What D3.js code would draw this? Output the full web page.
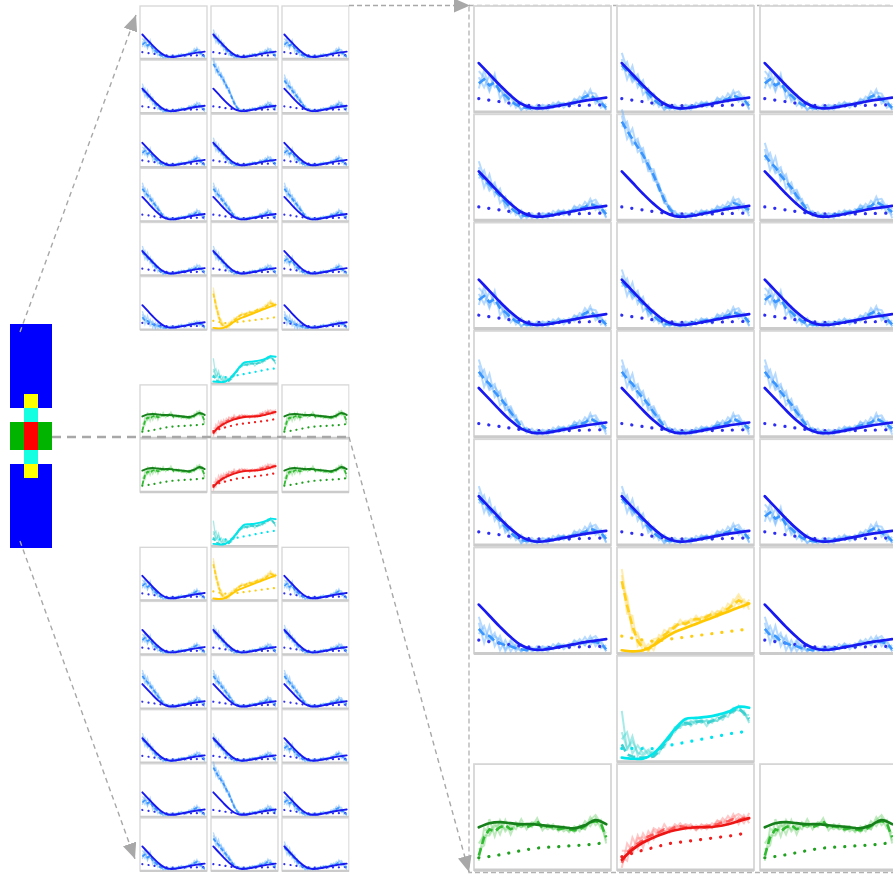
<!DOCTYPE html>
<html lang="en">
<head>
<meta charset="utf-8">
<title>Small multiples with zoom</title>
<script src="https://d3js.org/d3.v7.min.js"></script>
<style>
  body { margin: 0; background: #fff; }
</style>
</head>
<body>
<script>
// layout of the grid: B blue, Y yellow, C cyan, G green, R red, - empty
const rowKinds = ["BBB","BBB","BBB","BBB","BBB","BYB","-C-","GRG","GRG","-C-","BYB","BBB","BBB","BBB","BBB","BBB"];
// which blue data curve each blue cell shows
const blueVariants = ["ABA","BCD","ABA","DDD","BBA","E-E","---","---","---","---","A-A","ABB","DDD","BBA","ACA","ADB"];

// fitted curves (solid), 13 points across the panel
const blueFit   = [0.46,0.35,0.24,0.14,0.06,0.02,0.015,0.03,0.05,0.07,0.09,0.105,0.12];
const yellowFit = [0.01,0.0,0.01,0.06,0.13,0.19,0.23,0.27,0.31,0.35,0.39,0.43,0.47];
const cyanFit   = [0.02,0.01,0.01,0.06,0.17,0.30,0.40,0.41,0.42,0.44,0.47,0.52,0.51];
const greenFit  = [0.40,0.44,0.45,0.44,0.43,0.43,0.42,0.41,0.40,0.39,0.42,0.47,0.43];
const redFit    = [0.08,0.18,0.25,0.30,0.34,0.37,0.39,0.40,0.40,0.41,0.43,0.46,0.49];

// baselines (dotted)
const blueDot   = [0.11,0.08,0.05,0.04,0.04,0.045,0.05];
const yellowDot = [0.15,0.12,0.10,0.12,0.14,0.16,0.18,0.20,0.22];
const cyanDot   = [0.11,0.11,0.11,0.14,0.17,0.20,0.23,0.26,0.28];
const greenDot  = [0.10,0.12,0.15,0.18,0.20,0.21,0.22,0.23,0.25];
const redDot    = [0.11,0.16,0.20,0.24,0.26,0.28,0.30,0.32,0.35];

// mean of the data (dashed), 25 points
const blueDashA = [0.26,0.30,0.24,0.27,0.18,0.14,0.09,0.05,0.03,0.02,0.01,0.02,0.02,0.03,0.04,0.05,0.05,0.06,0.07,0.09,0.13,0.15,0.10,0.07,0.02];
const blueDashB = [0.44,0.38,0.33,0.27,0.22,0.16,0.10,0.06,0.03,0.02,0.02,0.01,0.02,0.03,0.04,0.05,0.06,0.06,0.08,0.09,0.11,0.14,0.12,0.10,0.04];
const blueDashC = [0.95,0.86,0.78,0.70,0.62,0.52,0.42,0.30,0.18,0.09,0.04,0.02,0.02,0.03,0.04,0.05,0.06,0.07,0.08,0.09,0.11,0.15,0.13,0.11,0.08];
const blueDashD = [0.62,0.55,0.50,0.42,0.36,0.30,0.22,0.15,0.08,0.04,0.03,0.02,0.02,0.03,0.04,0.05,0.06,0.07,0.09,0.10,0.12,0.16,0.13,0.10,0.06];
const blueDashE = [0.22,0.16,0.15,0.10,0.08,0.06,0.05,0.03,0.02,0.01,0.01,0.02,0.02,0.03,0.04,0.05,0.05,0.06,0.07,0.08,0.09,0.10,0.09,0.08,0.02];
const yellowDash = [0.69,0.45,0.25,0.10,0.03,0.02,0.06,0.12,0.16,0.20,0.24,0.28,0.27,0.30,0.32,0.31,0.34,0.37,0.36,0.39,0.42,0.46,0.50,0.48,0.47];
const cyanDash   = [0.15,0.05,0.03,0.02,0.02,0.02,0.03,0.08,0.15,0.22,0.29,0.34,0.36,0.35,0.37,0.38,0.36,0.38,0.40,0.42,0.45,0.48,0.50,0.46,0.40];
const greenDash  = [0.12,0.30,0.38,0.36,0.40,0.42,0.38,0.41,0.43,0.40,0.42,0.46,0.39,0.41,0.40,0.38,0.39,0.38,0.37,0.38,0.41,0.45,0.46,0.44,0.30];
const redDash    = [0.05,0.15,0.20,0.24,0.27,0.31,0.33,0.35,0.38,0.37,0.40,0.41,0.40,0.41,0.39,0.40,0.41,0.42,0.43,0.45,0.46,0.48,0.47,0.49,0.50];

// scatter of single traces around the mean
const jitter1 = [0.06,-0.08,0.10,-0.05,0.07,-0.06,0.04,-0.03,0.05,-0.02,0.03,-0.02,0.02,-0.03,0.03,-0.02,0.02,-0.03,0.04,-0.02,0.05,-0.04,0.03,-0.05,0.04];
const jitter2 = [-0.05,0.09,-0.04,0.08,-0.07,0.05,-0.05,0.04,-0.03,0.03,-0.02,0.03,-0.02,0.02,-0.02,0.03,-0.03,0.02,-0.02,0.04,-0.03,0.05,-0.04,0.03,-0.06];
const jitter3 = [0.12,0.02,-0.06,0.05,0.03,-0.04,0.06,0.01,-0.03,0.02,0.01,-0.01,0.03,0.0,-0.02,0.02,0.01,-0.02,0.03,0.01,-0.03,0.02,0.06,0.0,-0.03];
const cyanJitter1 = [0.33,0.04,0.20,0.02,0.10,0.03,0.05,-0.02,0.03,-0.02,0.02,-0.03,0.03,-0.02,0.02,-0.02,0.03,-0.02,0.02,-0.03,0.02,-0.02,0.03,-0.02,0.04];
const cyanJitter2 = [0.05,0.22,0.03,0.12,0.04,0.08,0.02,0.03,-0.03,0.02,-0.02,0.02,-0.02,0.03,-0.02,0.02,-0.03,0.02,-0.02,0.02,-0.03,0.03,-0.02,0.02,-0.04];
const cyanJitter3 = [0.12,0.06,0.15,0.05,0.02,0.06,0.01,0.02,0.02,-0.01,0.03,0.0,-0.02,0.02,0.01,-0.01,0.02,0.0,-0.02,0.01,0.02,-0.01,0.02,0.0,-0.02];

const series = {
  B: { fit: blueFit, dot: blueDot, dash: {A: blueDashA, B: blueDashB, C: blueDashC, D: blueDashD, E: blueDashE},
       jit: [jitter1, jitter2, jitter3], map: "#0000ff",
       cFit: "#1818f0", cDash: "#3a96ff", cFaint: "#6fb6ff", cDot: "#2e2ef2" },
  Y: { fit: yellowFit, dot: yellowDot, dash: {"-": yellowDash}, jit: [jitter1, jitter2, jitter3], map: "#ffff00",
       cFit: "#ffc800", cDash: "#ffcf1a", cFaint: "#ffdc60", cDot: "#ffcc10" },
  C: { fit: cyanFit, dot: cyanDot, dash: {"-": cyanDash}, jit: [cyanJitter1, cyanJitter2, cyanJitter3], map: "#14ffe2",
       cFit: "#00e6ea", cDash: "#3cd0d0", cFaint: "#50d8d2", cDot: "#00e4f0" },
  G: { fit: greenFit, dot: greenDot, dash: {"-": greenDash}, jit: [jitter1, jitter2, jitter3], map: "#00b400",
       cFit: "#16801a", cDash: "#30bb30", cFaint: "#7ed67e", cDot: "#22a022" },
  R: { fit: redFit, dot: redDot, dash: {"-": redDash}, jit: [jitter1, jitter2, jitter3], map: "#ff0000",
       cFit: "#ee1515", cDash: "#ff5a5a", cFaint: "#ff9090", cDot: "#ee2020" }
};

const W = 893, H = 878;
const svg = d3.select("body").append("svg").attr("width", W).attr("height", H);

const defs = svg.append("defs");
defs.append("marker")
    .attr("id", "arr")
    .attr("viewBox", "0 0 16 14")
    .attr("refX", 16).attr("refY", 7)
    .attr("markerWidth", 16).attr("markerHeight", 14)
    .attr("markerUnits", "userSpaceOnUse")
    .attr("orient", "auto")
  .append("path")
    .attr("d", "M0,0L16,7L0,14Z")
    .attr("fill", "#a8a8a8");
defs.append("clipPath").attr("id", "midclip")
  .append("rect").attr("x", 0).attr("y", 0).attr("width", 349.5).attr("height", H);

// ---- map on the left
const mapBox = {x: 10, y: 324, s: 14};
const mapG = svg.append("g").attr("shape-rendering", "crispEdges");
rowKinds.forEach((row, r) => {
  row.split("").forEach((kind, c) => {
    if (kind === "-") return;
    mapG.append("rect")
      .attr("x", mapBox.x + c * mapBox.s).attr("y", mapBox.y + r * mapBox.s)
      .attr("width", mapBox.s).attr("height", mapBox.s)
      .attr("fill", series[kind].map);
  });
});

// ---- cell drawing
function drawCell(parent, r, c, kind, variant, box) {
  const s = series[kind];
  const st = box.style;
  const x0 = box.x + c * box.dx, y0 = box.y + r * box.dy;
  const g = parent.append("g");

  g.append("rect")
    .attr("x", x0).attr("y", y0).attr("width", box.w).attr("height", box.h)
    .attr("fill", "#fff").attr("stroke", "#d6d6d6").attr("stroke-width", box.frame);
  g.append("line")
    .attr("x1", x0).attr("x2", x0 + box.w).attr("y1", y0 + box.h).attr("y2", y0 + box.h)
    .attr("stroke", "#cbcbcb").attr("stroke-width", box.frame * 1.8);

  const x = d3.scaleLinear().domain([0, 1]).range([x0 + 0.035 * box.w, x0 + 0.965 * box.w]);
  const y = d3.scaleLinear().domain([0, 1]).range([y0 + box.h - box.pad, y0 + box.pad]);
  const line = (curve) => d3.line()
      .x((d, i, arr) => x(i / (arr.length - 1)))
      .y(d => y(d))
      .curve(curve);

  const dash = s.dash[variant] || s.dash["-"];

  s.jit.forEach(j => {
    const trace = dash.map((v, i) => Math.max(0, v + j[i]));
    g.append("path").attr("d", line(d3.curveLinear)(trace))
      .attr("fill", "none").attr("stroke", s.cFaint)
      .attr("stroke-opacity", 0.5).attr("stroke-width", st.faint);
  });

  g.append("path").attr("d", line(d3.curveCatmullRom)(s.dot))
    .attr("fill", "none").attr("stroke", s.cDot)
    .attr("stroke-width", st.dot).attr("stroke-linecap", "round")
    .attr("stroke-dasharray", st.dotDash);

  g.append("path").attr("d", line(d3.curveLinear)(dash))
    .attr("fill", "none").attr("stroke", s.cDash)
    .attr("stroke-width", st.dash)
    .attr("stroke-dasharray", st.dashDash);

  g.append("path").attr("d", line(d3.curveCatmullRom)(s.fit))
    .attr("fill", "none").attr("stroke", s.cFit)
    .attr("stroke-width", st.fit).attr("stroke-linecap", "round");
}

function drawGrid(parent, box, nRows) {
  rowKinds.slice(0, nRows).forEach((row, r) => {
    row.split("").forEach((kind, c) => {
      if (kind === "-") return;
      drawCell(parent, r, c, kind, blueVariants[r][c], box);
    });
  });
}

// ---- zoomed panel on the right (rows 0-7)
svg.append("rect")
  .attr("x", 469).attr("y", 5.5).attr("width", 500).attr("height", 867)
  .attr("fill", "none").attr("stroke", "#b2b2b2").attr("stroke-width", 1.3)
  .attr("stroke-dasharray", "5,3");
const rightBox = {x: 474, y: 6, dx: 143, dy: 108.3, w: 137, h: 106, pad: 2.2, frame: 1.8,
  style: {faint: 2.0, dot: 3.2, dotDash: "0.1,10", dash: 2.6, dashDash: "8,4", fit: 2.7}};
drawGrid(svg.append("g"), rightBox, 8);

// ---- middle small multiples (all rows)
const midBox = {x: 140, y: 6, dx: 71, dy: 54.13, w: 67, h: 53, pad: 1.3, frame: 1.3,
  style: {faint: 1.3, dot: 2.2, dotDash: "0.1,6", dash: 1.7, dashDash: "4,2", fit: 1.9}};
drawGrid(svg.append("g").attr("clip-path", "url(#midclip)"), midBox, rowKinds.length);

// ---- connecting dashed lines
const lg = svg.append("g").attr("fill", "none").attr("stroke", "#a8a8a8");
lg.append("line").attr("x1", 20).attr("y1", 332).attr("x2", 136).attr("y2", 15)
  .attr("stroke-width", 1.4).attr("stroke-dasharray", "5,4").attr("marker-end", "url(#arr)");
lg.append("line").attr("x1", 20).attr("y1", 541).attr("x2", 135).attr("y2", 859)
  .attr("stroke-width", 1.4).attr("stroke-dasharray", "5,4").attr("marker-end", "url(#arr)");
lg.append("line").attr("x1", 52).attr("y1", 437).attr("x2", 349).attr("y2", 437)
  .attr("stroke-width", 2.6).attr("stroke-dasharray", "9,6");
lg.append("line").attr("x1", 349).attr("y1", 5.5).attr("x2", 470).attr("y2", 5.5)
  .attr("stroke-width", 1.3).attr("stroke-dasharray", "5,3").attr("marker-end", "url(#arr)");
lg.append("line").attr("x1", 349).attr("y1", 437).attr("x2", 469).attr("y2", 872)
  .attr("stroke-width", 1.4).attr("stroke-dasharray", "5,4").attr("marker-end", "url(#arr)");
</script>
</body>
</html>
